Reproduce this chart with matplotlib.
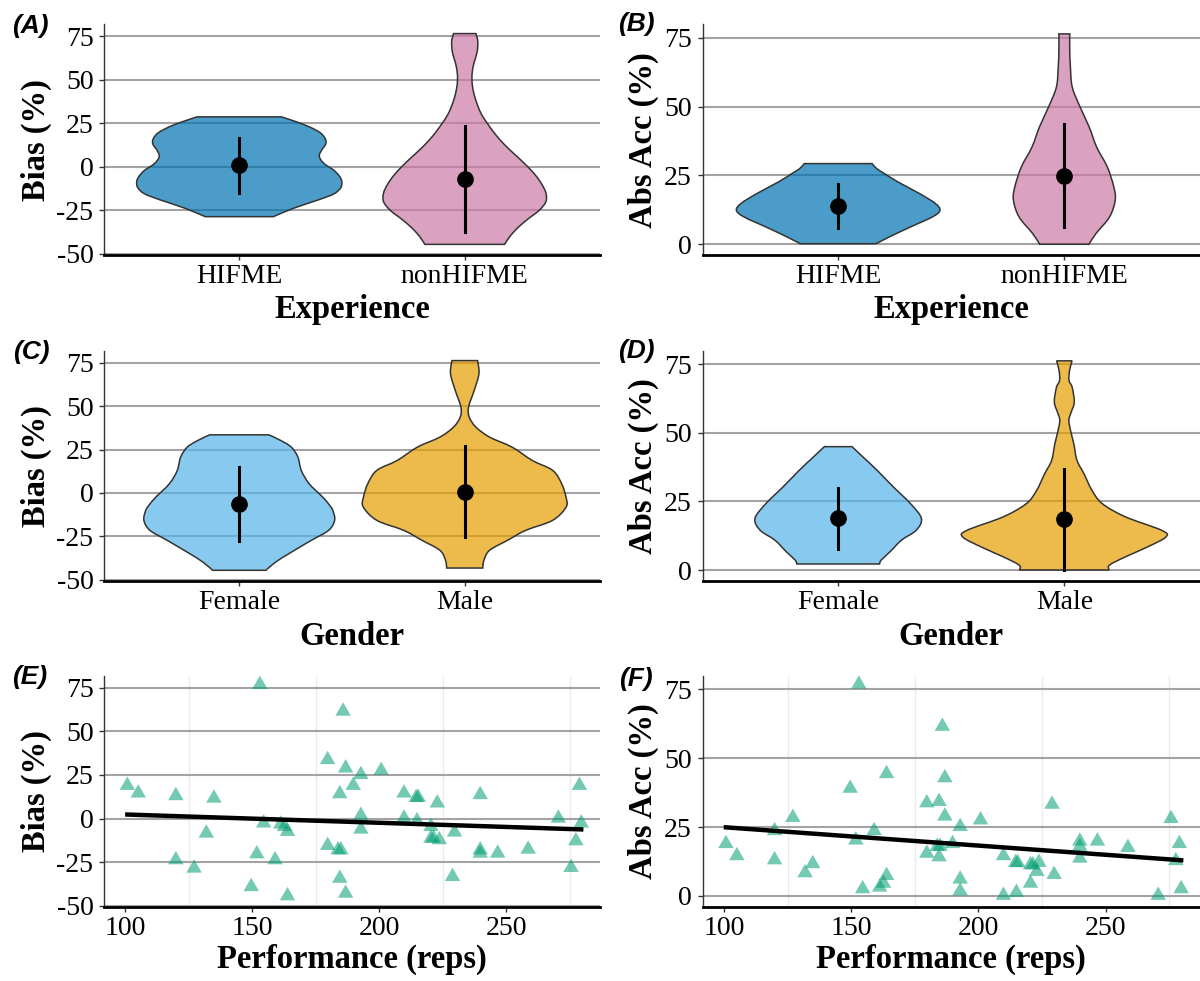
import numpy as np
import matplotlib
matplotlib.use("Agg")
from matplotlib import pyplot as plt
from matplotlib.colors import to_rgba
from matplotlib.path import Path
from matplotlib.patches import PathPatch

plt.rcParams['font.family'] = ['Liberation Serif', 'DejaVu Serif']
plt.rcParams['axes.unicode_minus'] = False

# violin outlines: y level and half width (x units) of each group
hifme_bias_y = [28.7, 26, 23, 19.5, 16, 13, 9.5, 6, 2, -2, -5.5, -8.5, -12, -15.5, -19, -23.8, -28.6]
hifme_bias_w = [0.187, 0.25, 0.31, 0.36, 0.382, 0.383, 0.365, 0.355, 0.375, 0.42, 0.445, 0.455, 0.45, 0.42, 0.35, 0.24, 0.151]
nonhifme_bias_y = [76.5, 72, 66, 60, 55, 50, 45, 40, 35, 30, 25, 20, 15, 10, 5, 0, -5, -10, -15, -20, -25, -30, -35, -40, -44.5]
nonhifme_bias_w = [0.05, 0.058, 0.055, 0.042, 0.034, 0.032, 0.036, 0.045, 0.058, 0.075, 0.1, 0.128, 0.16, 0.198, 0.24, 0.28, 0.315, 0.342, 0.36, 0.36, 0.33, 0.28, 0.235, 0.2, 0.177]

hifme_abs_y = [29.3, 27.5, 25.6, 22.6, 18.4, 14.8, 12.3, 9.9, 6.3, 2.7, 0.2]
hifme_abs_w = [0.15, 0.17, 0.206, 0.265, 0.36, 0.43, 0.45, 0.416, 0.32, 0.227, 0.168]
nonhifme_abs_y = [76.4, 70.4, 64.3, 57.1, 49.8, 42.6, 35.3, 28.1, 20.8, 16.0, 9.9, 3.9, 0]
nonhifme_abs_w = [0.024, 0.024, 0.027, 0.035, 0.07, 0.11, 0.143, 0.19, 0.219, 0.225, 0.2, 0.14, 0.109]

female_bias_y = [33.5, 30.5, 26.5, 20.7, 13.0, 5.3, -2.4, -7, -10.1, -15.8, -21.6, -27.3, -35, -40, -44.6]
female_bias_w = [0.131, 0.18, 0.23, 0.26, 0.275, 0.31, 0.37, 0.4, 0.415, 0.423, 0.396, 0.32, 0.22, 0.16, 0.118]
male_bias_y = [76.3, 68.7, 59.1, 49.5, 43.7, 37.9, 32.2, 26.4, 18.7, 13.0, 5.3, -2.4, -8.1, -15.8, -21.6, -27.3, -33.1, -38.9, -43.3]
male_bias_w = [0.057, 0.063, 0.042, 0.017, 0.02, 0.05, 0.11, 0.21, 0.3, 0.39, 0.43, 0.449, 0.45, 0.39, 0.27, 0.19, 0.11, 0.085, 0.08]

female_abs_y = [45, 41.2, 36.3, 30.3, 24.2, 18.8, 14.5, 10.9, 6.7, 3.6, 2.2]
female_abs_w = [0.061, 0.11, 0.173, 0.244, 0.32, 0.368, 0.345, 0.28, 0.23, 0.19, 0.183]
male_abs_y = [76.3, 72.7, 69.1, 66.6, 61.2, 57.5, 54.5, 50, 46, 40, 35.1, 29.1, 24.2, 19.4, 14.5, 12.1, 8.5, 4.8, 1.8, 0]
male_abs_w = [0.034, 0.023, 0.021, 0.035, 0.044, 0.03, 0.02, 0.03, 0.042, 0.056, 0.087, 0.122, 0.168, 0.27, 0.43, 0.45, 0.37, 0.27, 0.2, 0.198]

# mean and error bar limits per group
exp_groups = ['HIFME', 'nonHIFME']
gender_groups = ['Female', 'Male']
exp_bias_mean = [0.8, -7.2]
exp_bias_lo = [-15.2, -37.2]
exp_bias_hi = [16.7, 23.4]
exp_abs_mean = [13.9, 24.7]
exp_abs_lo = [5.9, 6.3]
exp_abs_hi = [21.9, 43.5]
gender_bias_mean = [-6.6, 0.5]
gender_bias_lo = [-27.7, -25.4]
gender_bias_hi = [14.9, 26.8]
gender_abs_mean = [19.0, 18.5]
gender_abs_lo = [7.8, 0.0]
gender_abs_hi = [30.0, 37.0]

# performance vs bias / absolute accuracy, one value per participant
reps = [100.8, 105.1, 119.9, 134.9, 119.9, 127.1, 131.9, 153.0, 151.8, 149.6,
        154.5, 159.0, 161.2, 162.7, 163.9, 163.9, 179.7, 179.7, 185.8, 186.8,
        184.5, 183.8, 184.9, 184.5, 186.8, 189.8, 192.8, 192.8, 192.8, 200.8,
        209.8, 214.6, 215.4, 209.8, 214.9, 220.4, 220.4, 221.4, 223.7, 222.9,
        229.7, 228.9, 239.8, 239.8, 239.8, 246.7, 258.7, 270.6, 275.6, 277.5,
        278.9, 279.6]
bias = [19.0, 14.6, 13.1, 11.7, -23.7, -28.5, -8.4, 76.9, -20.3, -39.1,
        -2.6, -23.7, -3.2, -4.6, -7.4, -44.4, 33.8, -15.5, 61.6, 29.0,
        14.2, -18.0, -18.0, -34.3, -42.9, 19.0, 25.2, 1.8, -6.1, 27.6,
        14.6, 12.1, 12.1, 0.2, -1.3, -4.6, -11.3, -11.3, -12.2, 8.9,
        -7.8, -33.3, 13.7, -18.0, -19.9, -19.9, -17.6, 0.2, -28.1, -12.8,
        19.0, -2.6]
abs_acc = [19.0, 14.6, 13.1, 11.7, 23.7, 28.5, 8.4, 76.9, 20.3, 39.1,
           2.6, 23.7, 3.2, 4.6, 7.4, 44.4, 33.8, 15.5, 61.6, 29.0,
           14.2, 18.0, 18.0, 34.3, 42.9, 19.0, 25.2, 1.8, 6.1, 27.6,
           14.6, 12.1, 12.1, 0.2, 1.3, 4.6, 11.3, 11.3, 12.2, 8.9,
           7.8, 33.3, 13.7, 18.0, 19.9, 19.9, 17.6, 0.2, 28.1, 12.8,
           19.0, 2.6]

bias_ticks = [-50, -25, 0, 25, 50, 75]
abs_ticks = [0, 25, 50, 75]
reps_ticks = [100, 150, 200, 250]
reps_minor = [125, 175, 225, 275]

W, H = 1200, 981
fig = plt.figure(figsize=(12, 9.81), dpi=100)


def add_panel(left, top, right, bottom):
    return fig.add_axes([left / W, 1 - bottom / H, (right - left) / W, (bottom - top) / H])


def style(ax, ticks, ylim):
    ax.set_ylim(*ylim)
    ax.set_yticks(ticks)
    ax.set_yticklabels([str(t) for t in ticks])
    ax.set_axisbelow(True)
    ax.yaxis.grid(True, color='#a3a3a3', lw=1.5)
    for s in ['top', 'right']:
        ax.spines[s].set_visible(False)
    ax.spines['left'].set_color('#333333')
    ax.spines['left'].set_linewidth(1.0)
    ax.spines['bottom'].set_color('black')
    ax.spines['bottom'].set_linewidth(2.0)
    ax.tick_params(axis='both', which='major', labelsize=20, length=3.6,
                   width=1.0, color='#333333', labelcolor='black')
    ax.tick_params(axis='y', pad=4)
    ax.tick_params(axis='x', pad=3)


def smooth_side(pts):
    # Catmull-Rom through the outline points, as cubic Bezier control points
    p = np.vstack([pts[0], pts, pts[-1]])
    verts = []
    for i in range(1, len(p) - 2):
        c1 = p[i] + (p[i + 1] - p[i - 1]) / 6
        c2 = p[i + 1] - (p[i + 2] - p[i]) / 6
        verts += [c1, c2, p[i + 1]]
    return verts


def violin_path(pos, ys, ws):
    ys = np.asarray(ys, float)
    ws = np.asarray(ws, float)
    right = np.column_stack([pos + ws, ys])
    left = np.column_stack([pos - ws, ys])[::-1]
    verts = [left[-1], right[0]]
    codes = [Path.MOVETO, Path.LINETO]
    side = smooth_side(right)
    verts += side
    codes += [Path.CURVE4] * len(side)
    verts.append(left[0])
    codes.append(Path.LINETO)
    side = smooth_side(left)
    verts += side
    codes += [Path.CURVE4] * len(side)
    verts.append(left[-1])
    codes.append(Path.CLOSEPOLY)
    return Path(verts, codes)


def violins(ax, outlines, colors, means, lo, hi, groups):
    for i, ((ys, ws), c) in enumerate(zip(outlines, colors)):
        pos = i + 1
        patch = PathPatch(violin_path(pos, ys, ws), facecolor=to_rgba(c, 0.7),
                          edgecolor='#333333', lw=1.1, zorder=2)
        ax.add_patch(patch)
        ax.plot([pos, pos], [lo[i], hi[i]], color='black', lw=2.2, zorder=3)
        ax.plot(pos, means[i], 'o', color='black', ms=11, zorder=4)
    ax.set_xlim(0.4, 2.6)
    ax.set_xticks([1, 2])
    ax.set_xticklabels(groups)


def scatter(ax, y):
    ax.scatter(reps, y, marker=(3, 0, 0), s=165, color='#009E73', alpha=0.55,
               edgecolors='none', zorder=2)
    slope, icpt = np.polyfit(reps, y, 1)
    xs = np.array([min(reps), max(reps)])
    ax.plot(xs, icpt + slope * xs, color='black', lw=3.2, zorder=3)
    ax.set_xlim(91.6, 287)
    ax.set_xticks(reps_ticks)
    ax.set_xticklabels([str(t) for t in reps_ticks])
    ax.set_xticks(reps_minor, minor=True)
    ax.xaxis.grid(True, which='minor', color='#ebebeb', lw=1.0)
    ax.tick_params(axis='x', which='minor', length=0)


bias_lim = (-50.6, 82.0)
abs_lim = (-3.9, 80.0)

ax_a = add_panel(104, 24, 600, 255)
style(ax_a, bias_ticks, bias_lim)
violins(ax_a, [(hifme_bias_y, hifme_bias_w), (nonhifme_bias_y, nonhifme_bias_w)],
        ['#0072B2', '#CC79A7'], exp_bias_mean, exp_bias_lo, exp_bias_hi, exp_groups)

ax_b = add_panel(702.5, 24, 1200, 255)
style(ax_b, abs_ticks, abs_lim)
violins(ax_b, [(hifme_abs_y, hifme_abs_w), (nonhifme_abs_y, nonhifme_abs_w)],
        ['#0072B2', '#CC79A7'], exp_abs_mean, exp_abs_lo, exp_abs_hi, exp_groups)

ax_c = add_panel(104, 350.7, 600, 580.7)
style(ax_c, bias_ticks, bias_lim)
violins(ax_c, [(female_bias_y, female_bias_w), (male_bias_y, male_bias_w)],
        ['#56B4E9', '#E69F00'], gender_bias_mean, gender_bias_lo, gender_bias_hi, gender_groups)

ax_d = add_panel(702.5, 350.7, 1200, 580.7)
style(ax_d, abs_ticks, abs_lim)
violins(ax_d, [(female_abs_y, female_abs_w), (male_abs_y, male_abs_w)],
        ['#56B4E9', '#E69F00'], gender_abs_mean, gender_abs_lo, gender_abs_hi, gender_groups)

ax_e = add_panel(104, 675.7, 600, 906.7)
style(ax_e, bias_ticks, bias_lim)
scatter(ax_e, bias)

ax_f = add_panel(702.5, 675.7, 1200, 906.7)
style(ax_f, abs_ticks, abs_lim)
scatter(ax_f, abs_acc)

# axis titles and panel tags, placed in pixel coordinates
title_kw = dict(fontsize=23.5, fontweight='bold', ha='center')
for cx, by, txt in [(352, 318, 'Experience'), (951, 318, 'Experience'),
                    (352, 645, 'Gender'), (951, 645, 'Gender'),
                    (352, 968, 'Performance (reps)'), (951, 968, 'Performance (reps)')]:
    fig.text(cx / W, 1 - by / H, txt, va='baseline', **title_kw)

for cx, cy, txt in [(36, 140, 'Bias (%)'), (643, 140, 'Abs Acc (%)'),
                    (36, 466, 'Bias (%)'), (643, 466, 'Abs Acc (%)'),
                    (36, 791, 'Bias (%)'), (643, 791, 'Abs Acc (%)')]:
    fig.text(cx / W, 1 - cy / H, txt, va='center', rotation=90, **title_kw)

tag_kw = dict(fontsize=19, fontweight='bold', fontstyle='italic',
              family=['Liberation Sans', 'DejaVu Sans'], ha='center', va='center')
for cx, cy, txt in [(30, 26, '(A)'), (636, 24, '(B)'), (31, 352, '(C)'),
                    (636, 351, '(D)'), (30, 677, '(E)'), (636, 679, '(F)')]:
    fig.text(cx / W, 1 - cy / H, txt, **tag_kw)

fig.savefig('out.png', dpi=100, facecolor='white')
